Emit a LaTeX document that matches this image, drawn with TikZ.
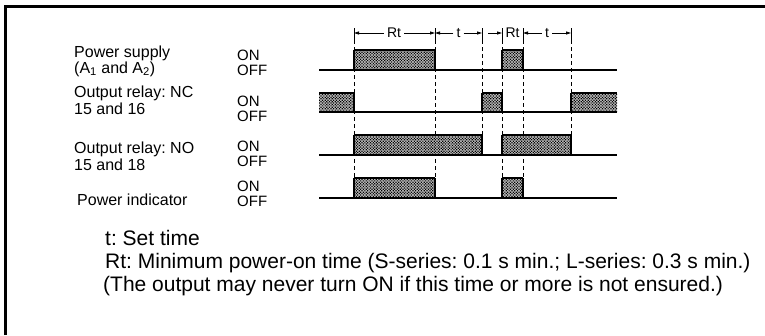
\documentclass[tikz,border=0pt]{standalone}
\usepackage{fontspec}
\setmainfont{Liberation Sans}
\usetikzlibrary{arrows.meta,patterns.meta}
\frenchspacing
\newcommand\wpulse[4]{% x1 x2 low high
  \path[stip] (#1,#4) rectangle (#2,#3);
  \draw[side] (#1,#3) -- (#1,#4) (#2,#4) -- (#2,#3);
  \draw[hightop] (#1,#4) -- (#2,#4);}
\begin{document}
\begin{tikzpicture}[x=1pt,y=-1pt,
  lbl/.style={anchor=base west,inner sep=0pt,font=\fontsize{16}{18}\selectfont},
  onoff/.style={anchor=base west,inner sep=0pt,font=\fontsize{15}{16}\selectfont},
  note/.style={anchor=base west,inner sep=0pt,font=\fontsize{21}{24}\selectfont},
  dimlbl/.style={inner sep=3pt,font=\fontsize{14}{15}\selectfont},
  base/.style={line width=2pt},
  hightop/.style={line width=2.8pt},
  side/.style={line width=1.2pt},
  stip/.style={preaction={fill=black!25},pattern={Dots[distance=2pt,radius=0.85pt,angle=45]},pattern color=black},
  guide/.style={line width=0.8pt,dash pattern=on 4pt off 3pt},
  tickmark/.style={line width=0.9pt},
  dim/.style={line width=0.8pt,-{Triangle[length=5pt,width=3pt]}},
  frame/.style={line width=3pt}]
\useasboundingbox (0,0) rectangle (765,335);
% frame
\draw[frame] (5,335) -- (5,6.5) -- (765,6.5);
% labels
\node[lbl] (l1a) at (74,57) {Power supply};
\node[lbl] (l1b) at (74,73) {(A\textsubscript{1} and A\textsubscript{2})};
\node[lbl] (l2a) at (74,97) {Output relay: NC};
\node[lbl] (l2b) at (74,114) {15 and 16};
\node[lbl] (l3a) at (74,153) {Output relay: NO};
\node[lbl] (l3b) at (74,170) {15 and 18};
\node[lbl] (l4a) at (77,205) {Power indicator};
\node[onoff] (on1) at (237,60) {ON};
\node[onoff] (off1) at (237,75) {OFF};
\node[onoff] (on2) at (237,106) {ON};
\node[onoff] (off2) at (237,121) {OFF};
\node[onoff] (on3) at (237,151) {ON};
\node[onoff] (off3) at (237,166) {OFF};
\node[onoff] (on4) at (237,191) {ON};
\node[onoff] (off4) at (237,206) {OFF};
% guides
\foreach \x in {354,435,482,502,523,571} \draw[tickmark] (\x,28) -- (\x,40);
\draw[guide] (354,40) -- (354,178);
\draw[guide] (435,40) -- (435,178);
\draw[guide] (482,40) -- (482,155);
\draw[guide] (502,40) -- (502,178);
\draw[guide] (523,40) -- (523,178);
\draw[guide] (571,40) -- (571,135);
% dimension labels and arrows
\node[dimlbl] (rt1) at (394,33) {Rt};
\node[dimlbl] (t1) at (458.5,33) {t};
\node[dimlbl,inner sep=0.5pt] (rt2) at (512.5,33) {Rt};
\node[dimlbl] (t2) at (547,33) {t};
\coordinate (da) at (354,33);
\coordinate (db) at (435,33);
\coordinate (dc) at (482,33);
\coordinate (dd) at (502,33);
\coordinate (de) at (523,33);
\coordinate (df) at (571,33);
\coordinate (dx) at (488,33);
\draw[dim] (rt1) -- (da);
\draw[dim] (rt1) -- (db);
\draw[dim] (t1) -- (db);
\draw[dim] (t1) -- (dc);
\draw[dim] (dx) -- (dd);
\draw[dim] (t2) -- (de);
\draw[dim] (t2) -- (df);
% row 1: power supply
\wpulse{354}{435}{70}{50}
\wpulse{502}{523}{70}{50}
\draw[base] (319,70) -- (617,70);
% row 2: NC
\path[stip] (319,93) rectangle (354,112);
\draw[side] (354,93) -- (354,112);
\draw[hightop] (319,93) -- (354,93);
\wpulse{482}{502}{112}{93}
\path[stip] (571,93) rectangle (617,112);
\draw[side] (571,93) -- (571,112);
\draw[hightop] (571,93) -- (617,93);
\draw[base] (319,112) -- (617,112);
% row 3: NO
\wpulse{354}{482}{155}{135}
\wpulse{502}{571}{155}{135}
\draw[base] (319,155) -- (617,155);
% row 4: power indicator
\wpulse{354}{435}{198}{178}
\wpulse{502}{523}{198}{178}
\draw[base] (319,198) -- (617,198);
% notes
\node[note] (n1) at (105,245) {t: Set time};
\node[note] (n2) at (105,268) {Rt: Minimum power-on time (S-series: 0.1 s min.; L-series: 0.3 s min.)};
\node[note] (n3) at (103,291) {(The output may never turn ON if this time or more is not ensured.)};
\end{tikzpicture}
\end{document}
